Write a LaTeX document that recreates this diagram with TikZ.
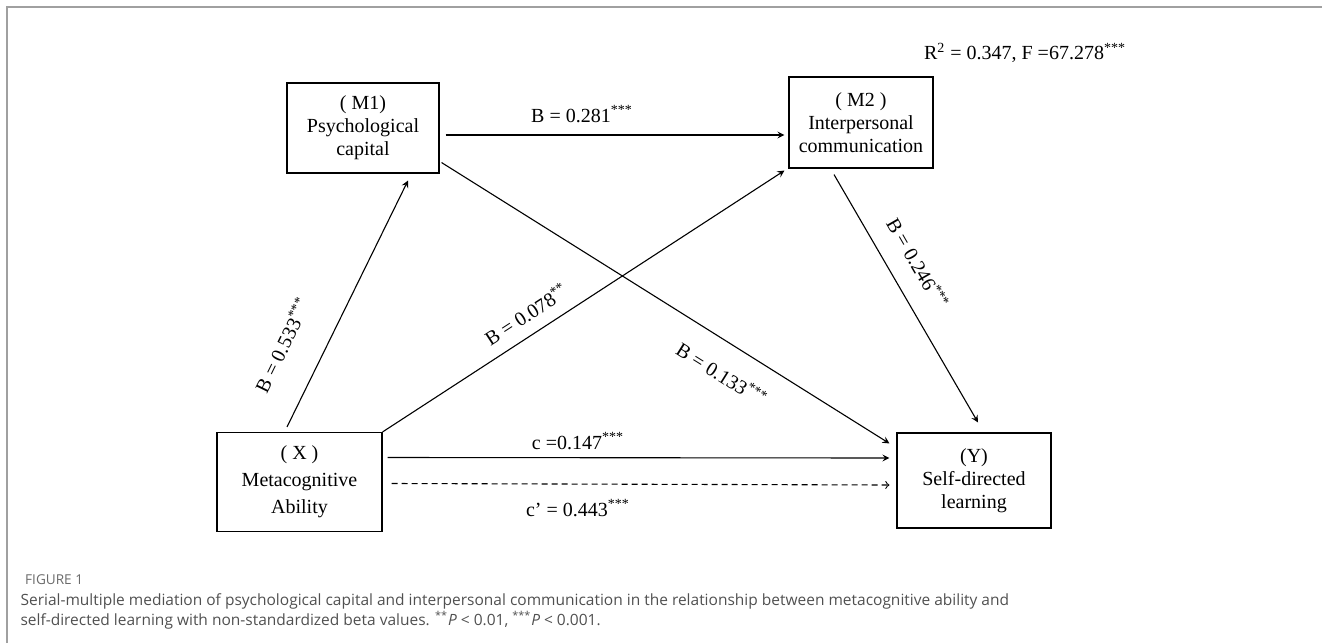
\documentclass[tikz,border=0pt]{standalone}
\usepackage{fontspec}
\setmainfont{Liberation Serif}
\newfontfamily\capfont{Open Sans}
\usetikzlibrary{calc}
\definecolor{framegray}{RGB}{160,160,160}
\definecolor{capgray}{RGB}{80,80,80}
\newcommand{\sig}[1]{\textsuperscript{#1}}
\newcommand{\coef}[4][]{%
\node[font=\fontsize{10}{12}\selectfont,#1] (#2) at (#3) {#4};
}

\begin{document}
\begin{tikzpicture}[x=0.5pt,y=-0.5pt,line width=0.55pt]
\useasboundingbox (0,0) rectangle (1322,643);

% frame
\draw[framegray] (7,643) -- (7,7) -- (1322,7);

\tikzstyle{varbox}=[draw,rectangle,inner sep=0pt,align=center,font=\fontsize{10}{11.5}\selectfont]
\node[varbox,minimum width=76pt,minimum height=45pt] (m1) at (363,128) {( M1)\\Psychological\\capital};
\node[varbox,minimum width=72pt,minimum height=45.5pt] (m2) at (861,122.5) {( M2 )\\Interpersonal\\communication};
\node[varbox,minimum width=82.5pt,minimum height=49.5pt,font=\fontsize{10}{13.5}\selectfont] (x) at (299.5,482) {( X )\\Metacognitive\\Ability};
\node[varbox,minimum width=77pt,minimum height=47.5pt] (y) at (974,480.5) {(Y)\\Self-directed\\learning};

\node[font=\fontsize{10}{12}\selectfont] (r2) at (1025,53) {R\sig{2} = 0.347, F =67.278\sig{***}};

% paths
\draw[-stealth] ($(x.north)+(-12.5,-5)$) -- ($(m1.south)+(45,7)$);
\draw[-stealth] ($(m1.east)+(6,7)$) -- ($(m2.west)+(-4,12.5)$);
\draw[-stealth] ($(m1.south east)+(2,-11)$) -- ($(y.north west)+(-7,11)$);
\draw[-stealth] (x.north east) -- ($(m2.south west)+(-4,2)$);
\draw[-stealth] ($(m2.south)+(-27,6)$) -- ($(y.north)+(4,-10)$);
\draw[-stealth] ($(x.east)+(5,-24.5)$) -- ($(y.west)+(-7,-22.5)$);
\draw[dash pattern=on 3pt off 2pt,->] ($(x.east)+(9,1.5)$) -- ($(y.west)+(-7,4.5)$);

% coefficients
\coef[rotate=64]{a1}{282,345}{B = 0.533\sig{***}}
\coef{d21}{582,114}{B = 0.281\sig{***}}
\coef[rotate=33]{a2}{526,314}{B = 0.078\sig{**}}
\coef[rotate=-32]{d31}{722,374}{B = 0.133\sig{***}}
\coef[rotate=-60]{b2}{918,263}{B = 0.246\sig{***}}
\coef{c}{578,441}{c =0.147\sig{***}}
\coef{cp}{578,508}{c’ = 0.443\sig{***}}

% caption
\node[anchor=west,font=\capfont\fontsize{6.8}{8}\selectfont,text=capgray!85] (fig) at (18,580) {FIGURE 1};
\node[anchor=north west,align=left,inner sep=0pt,font=\capfont\fontsize{7.75}{10}\selectfont,text=capgray] (cap) at (20,593) {Serial-multiple mediation of psychological capital and interpersonal communication in the relationship between metacognitive ability and\\self-directed learning with non-standardized beta values. \sig{**}\textit{P} {\textless} 0.01, \sig{***}\textit{P} {\textless} 0.001.};

\end{tikzpicture}
\end{document}
